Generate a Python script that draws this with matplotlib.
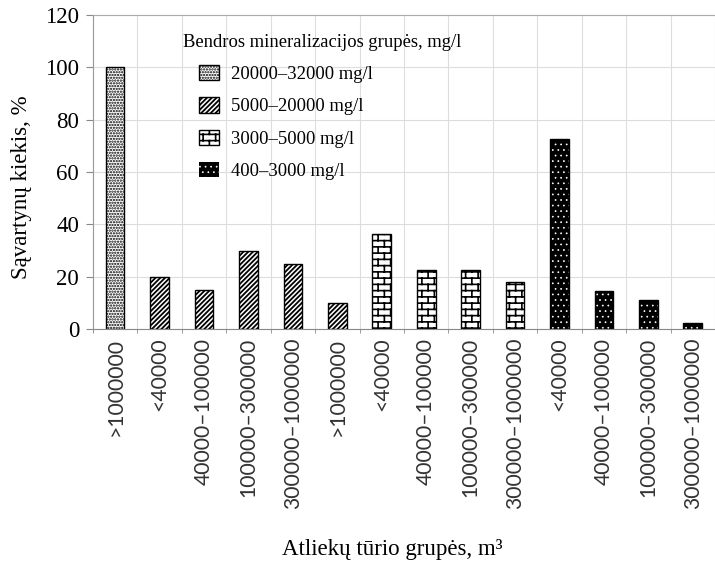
import warnings
import numpy as np
import matplotlib
matplotlib.use('Agg')
import matplotlib.pyplot as plt
from matplotlib import hatch as mhatch
from matplotlib.path import Path

warnings.filterwarnings('ignore', category=matplotlib.MatplotlibDeprecationWarning)

# data
size_labels = ['>1000000', '<40000', '40000–100000', '100000–300000', '300000–1000000',
               '>1000000', '<40000', '40000–100000', '100000–300000', '300000–1000000',
               '<40000', '40000–100000', '100000–300000', '300000–1000000']
group_names = ['20000–32000 mg/l', '5000–20000 mg/l', '3000–5000 mg/l', '400–3000 mg/l']
vals_20000 = [100]
vals_5000 = [20, 15, 30, 25, 10]
vals_3000 = [36.4, 22.7, 22.7, 18.2]
vals_400 = [72.7, 14.5, 11.3, 2.3]


# brick hatch, matplotlib has none built in
class Bricks(mhatch.HatchPatternBase):
    def __init__(self, hatch, density):
        self.rows = hatch.count('b') * 8
        self.cols = self.rows // 2
        self.num_vertices = 2 * self.rows + 2 * (self.rows + 1) * self.cols

    def set_vertices_and_codes(self, vertices, codes):
        n = 2 * self.rows
        y = (np.arange(self.rows) + 0.5) / self.rows
        vertices[0:n:2, 0] = 0.0
        vertices[0:n:2, 1] = y
        vertices[1:n:2, 0] = 1.0
        vertices[1:n:2, 1] = y
        r, c = np.meshgrid(np.arange(self.rows + 1), np.arange(self.cols), indexing='ij')
        x = ((c + 0.25 + 0.5 * (r % 2)) / self.cols).ravel()
        y0 = ((r - 0.5) / self.rows).ravel()
        vertices[n::2, 0] = x
        vertices[n::2, 1] = y0
        vertices[n + 1::2, 0] = x
        vertices[n + 1::2, 1] = y0 + 1.0 / self.rows
        codes[0::2] = Path.MOVETO
        codes[1::2] = Path.LINETO


mhatch._hatch_types.append(Bricks)

plt.rcParams['font.family'] = ['Liberation Serif', 'DejaVu Serif']
plt.rcParams['hatch.linewidth'] = 1.3

hatch_widths = [1.1, 1.3, 1.2, 0.5]


def hatch_lw(bars, lw):
    for p in bars:
        if hasattr(p, 'set_hatch_linewidth'):
            p.set_hatch_linewidth(lw)


fig = plt.figure(figsize=(7.15, 5.65), dpi=100)
ax = fig.add_axes([0.130, 0.417, 0.870, 0.557])

pos = np.arange(len(size_labels))
w = 0.42
i1 = len(vals_20000)
i2 = i1 + len(vals_5000)
i3 = i2 + len(vals_3000)

b1 = ax.bar(pos[:i1], vals_20000, w, color='white', edgecolor='black', linewidth=1,
            hatch='......', label=group_names[0])
hatch_lw(b1, hatch_widths[0])
b2 = ax.bar(pos[i1:i2], vals_5000, w, color='white', edgecolor='black', linewidth=1,
            hatch='///////', label=group_names[1])
hatch_lw(b2, hatch_widths[1])
b3 = ax.bar(pos[i2:i3], vals_3000, w, color='white', edgecolor='black', linewidth=1,
            hatch='bb', label=group_names[2])
hatch_lw(b3, hatch_widths[2])
b4 = ax.bar(pos[i3:], vals_400, w, color='black', edgecolor='white', linewidth=0,
            hatch='...', label=group_names[3])
hatch_lw(b4, hatch_widths[3])
ax.bar(pos[i3:], vals_400, w, fill=False, edgecolor='black', linewidth=1)

ax.set_xlim(-0.5, 13.35)
ax.set_ylim(0, 120)
ax.set_yticks(np.arange(0, 121, 20))
ax.set_xticks(pos)
ax.set_xticklabels(size_labels, rotation=90, va='top', ha='center',
                   family='Lato', fontsize=15.2, color='#333333')
ax.set_xticks(np.arange(-0.5, 14, 1), minor=True)
ax.tick_params(axis='x', which='major', length=0, pad=6)
ax.tick_params(axis='x', which='minor', length=3, color='#888888')
ax.tick_params(axis='y', labelsize=16.5, length=5, color='#888888', pad=5)

ax.set_axisbelow(True)
ax.grid(which='minor', axis='x', color='#dddddd', linewidth=0.8)
ax.grid(which='major', axis='y', color='#dddddd', linewidth=0.8)
ax.spines['right'].set_visible(False)
ax.spines['left'].set_color('#999999')
ax.spines['top'].set_color('#aaaaaa')
ax.spines['bottom'].set_color('#888888')

fig.text(22 / 715, 1 - 187 / 565, 'Sąvartynų kiekis, %', fontsize=16.5,
         rotation=90, ha='center', va='center')
fig.text(392 / 715, 1 - 550 / 565, 'Atliekų tūrio grupės, m³', fontsize=16.5,
         ha='center', va='center')

ax.text(0.145, 0.911, 'Bendros mineralizacijos grupės, mg/l', transform=ax.transAxes,
        fontsize=13.4, ha='left', va='center')
leg = ax.legend(loc='upper left', bbox_to_anchor=(0.170, 0.84), frameon=False,
                fontsize=13.4, handlelength=1.1, handleheight=0.9, handletextpad=0.65,
                labelspacing=0.76, borderpad=0, borderaxespad=0)
for h, lw in zip(leg.legend_handles, hatch_widths):
    if hasattr(h, 'set_hatch_linewidth'):
        h.set_hatch_linewidth(lw)

plt.savefig('out.png', dpi=100)
